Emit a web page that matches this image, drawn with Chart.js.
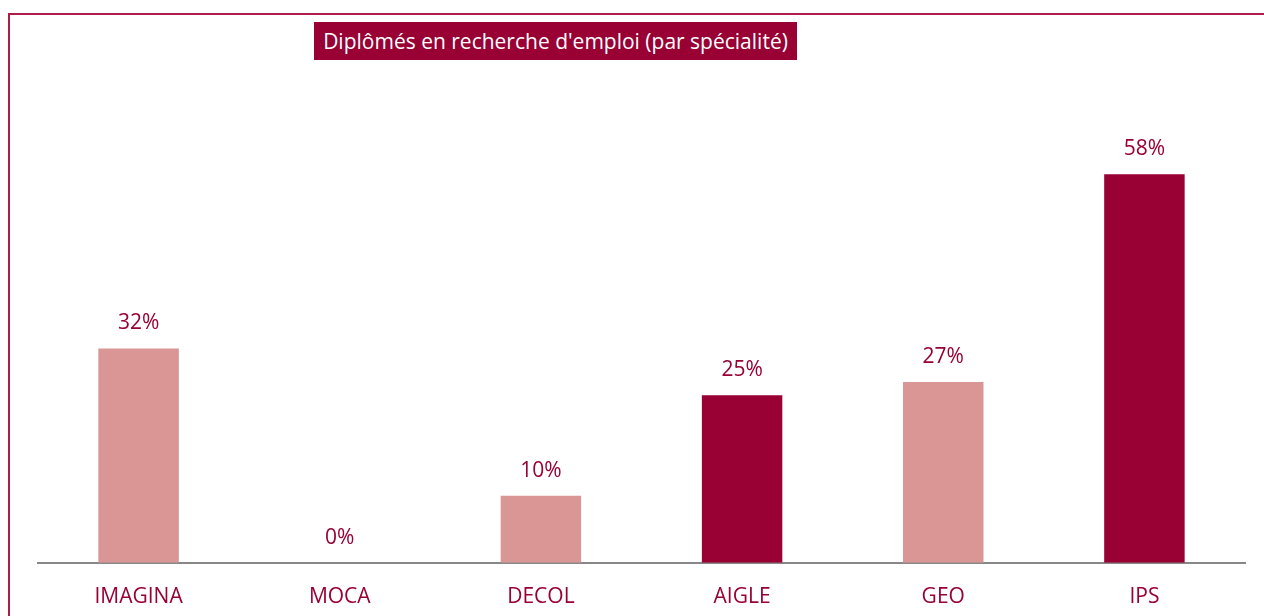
<!DOCTYPE html>
<html>
<head>
<meta charset="utf-8">
<script src="https://cdn.jsdelivr.net/npm/chart.js@4/dist/chart.umd.min.js"></script>
<style>
  html, body { margin: 0; padding: 0; background: #fff; overflow: hidden; }
  #frame {
    position: absolute; left: 8px; top: 13px; width: 1300px; height: 700px;
    border: 2px solid #AE1D47; box-sizing: border-box;
  }
  #title {
    position: absolute; left: 314px; top: 22px; width: 483px; height: 38px;
    background: #990033; color: #fff; font-family: "Open Sans", sans-serif; font-size: 21px;
    line-height: 38px; white-space: nowrap; text-align: center;
  }
  #wrap { position: absolute; left: 0; top: 0; width: 1264px; height: 640px; }
</style>
</head>
<body>
<div id="frame"></div>
<div id="wrap"><canvas id="chart" width="1264" height="640"></canvas></div>
<div id="title">Diplômés en recherche d'emploi (par spécialité)</div>
<script>
const specialites = ['IMAGINA', 'MOCA', 'DECOL', 'AIGLE', 'GEO', 'IPS'];
const pourcentages = [32, 0, 10, 25, 27, 58];
const couleurs = ['#D99694', '#D99694', '#D99694', '#990033', '#D99694', '#990033'];

// étiquettes de valeur au-dessus des barres
const labelsPlugin = {
  id: 'valeurs',
  afterDatasetsDraw(chart) {
    const ctx = chart.ctx;
    const meta = chart.getDatasetMeta(0);
    ctx.save();
    ctx.fillStyle = '#990033';
    ctx.font = '21px "Open Sans", sans-serif';
    ctx.textAlign = 'center';
    ctx.textBaseline = 'middle';
    meta.data.forEach((bar, i) => {
      ctx.fillText(pourcentages[i] + '%', bar.x, bar.y - 25);
    });
    ctx.restore();
  }
};

new Chart(document.getElementById('chart'), {
  type: 'bar',
  data: {
    labels: specialites,
    datasets: [{
      data: pourcentages,
      backgroundColor: couleurs,
      barPercentage: 0.4,
      categoryPercentage: 1
    }]
  },
  options: {
    responsive: false,
    animation: false,
    layout: { padding: { left: 38, right: 19, top: 94, bottom: 16 } },
    plugins: { legend: { display: false }, tooltip: { enabled: false } },
    scales: {
      y: { display: false, min: 0, max: 70 },
      x: {
        grid: { display: false },
        border: { display: true, color: '#888888', width: 2 },
        ticks: { color: '#990033', font: { family: 'Open Sans', size: 21 }, padding: 14 }
      }
    }
  },
  plugins: [labelsPlugin]
});
</script>
</body>
</html>
